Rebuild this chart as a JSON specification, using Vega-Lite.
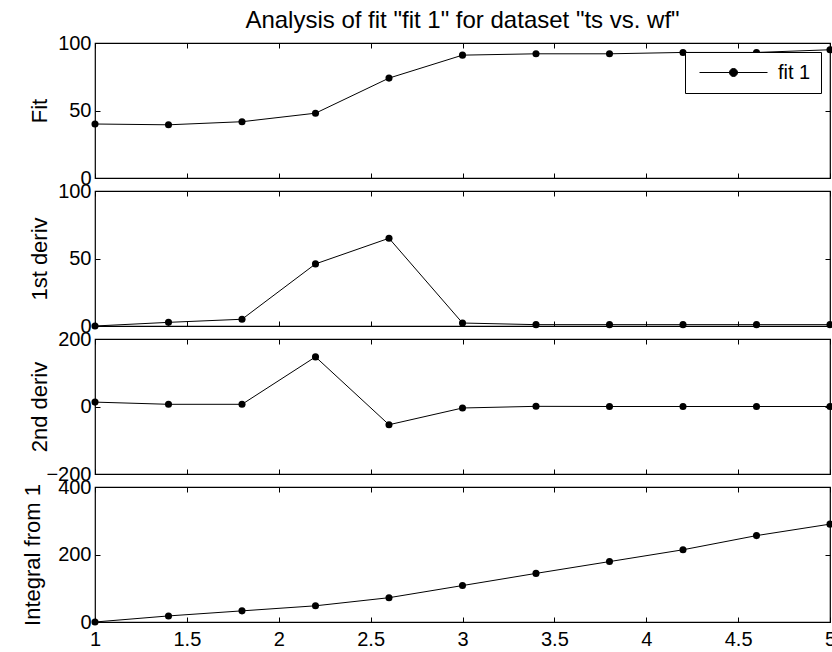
{
  "$schema": "https://vega.github.io/schema/vega-lite/v6.json",
  "padding": {"left": 20, "top": 8, "right": 0, "bottom": 0},
  "background": "white",
  "datasets": {
    "fit": [
      {"x": 1.0, "fit": 40, "d1": 0, "d2": 13, "integral": 0},
      {"x": 1.4, "fit": 39.4, "d1": 2.7, "d2": 6.5, "integral": 18},
      {"x": 1.8, "fit": 41.7, "d1": 5, "d2": 6.5, "integral": 33},
      {"x": 2.2, "fit": 48, "d1": 46, "d2": 147, "integral": 48},
      {"x": 2.6, "fit": 74, "d1": 65, "d2": -54, "integral": 72},
      {"x": 3.0, "fit": 91, "d1": 2.2, "d2": -4.4, "integral": 108},
      {"x": 3.4, "fit": 92, "d1": 1, "d2": 0.5, "integral": 144},
      {"x": 3.8, "fit": 92, "d1": 1, "d2": 0, "integral": 179},
      {"x": 4.2, "fit": 93, "d1": 1, "d2": 0, "integral": 214},
      {"x": 4.6, "fit": 93, "d1": 1, "d2": 0, "integral": 256},
      {"x": 5.0, "fit": 95, "d1": 1, "d2": 0, "integral": 290}
    ]
  },
  "spacing": 13,
  "bounds": "flush",
  "vconcat": [
    {
      "width": 735,
      "height": 135,
      "data": {"name": "fit"},
      "title": {"text": "Analysis of fit \"fit 1\" for dataset \"ts vs. wf\"", "frame": "group", "anchor": "middle", "baseline": "alphabetic", "offset": -19, "fontSize": 24, "fontWeight": "normal", "font": "Liberation Sans", "color": "black"},
      "layer": [
        {
          "mark": {"type": "line", "color": "black", "strokeWidth": 1},
          "encoding": {
            "x": {"field": "x", "type": "quantitative", "scale": {"domain": [1, 5], "nice": false, "zero": false}, "axis": {"orient": "bottom", "values": [1, 1.5, 2, 2.5, 3, 3.5, 4, 4.5, 5], "labels": false, "title": null}},
            "y": {"field": "fit", "type": "quantitative", "scale": {"domain": [0, 100], "nice": false}, "axis": {"orient": "left", "values": [0, 50, 100], "title": "Fit", "titleX": -56, "titleY": 67.5}}
          }
        },
        {
          "mark": {"type": "point", "filled": true, "size": 50, "opacity": 1},
          "encoding": {
            "x": {"field": "x", "type": "quantitative", "axis": {"orient": "top", "values": [1, 1.5, 2, 2.5, 3, 3.5, 4, 4.5, 5], "labels": false, "title": null}},
            "y": {"field": "fit", "type": "quantitative", "axis": {"orient": "right", "values": [0, 50, 100], "labels": false, "title": null}},
            "color": {"datum": "fit 1", "type": "nominal", "scale": {"range": ["black"]}, "legend": {"title": null, "orient": "top-right", "offset": 9, "symbolType": "M-0.6,0H6.2M3.2,0A0.4,0.4,0,1,1,2.4,0A0.4,0.4,0,1,1,3.2,0Z", "symbolSize": 400, "symbolStrokeWidth": 1, "symbolStrokeColor": "black", "symbolFillColor": "black", "symbolOpacity": 1, "labelFontSize": 20, "labelFont": "Liberation Sans", "labelColor": "black", "labelOffset": 62, "strokeColor": "black", "fillColor": "white", "padding": 10, "cornerRadius": 0}}
          }
        }
      ],
      "resolve": {"axis": {"x": "independent", "y": "independent"}}
    },
    {
      "width": 735,
      "height": 135,
      "data": {"name": "fit"},
      "layer": [
        {
          "mark": {"type": "line", "color": "black", "strokeWidth": 1},
          "encoding": {
            "x": {"field": "x", "type": "quantitative", "scale": {"domain": [1, 5], "nice": false, "zero": false}, "axis": {"orient": "bottom", "values": [1, 1.5, 2, 2.5, 3, 3.5, 4, 4.5, 5], "labels": false, "title": null}},
            "y": {"field": "d1", "type": "quantitative", "scale": {"domain": [0, 100], "nice": false}, "axis": {"orient": "left", "values": [0, 50, 100], "title": "1st deriv", "titleX": -56, "titleY": 67.5}}
          }
        },
        {
          "mark": {"type": "point", "filled": true, "size": 50, "opacity": 1, "color": "black"},
          "encoding": {
            "x": {"field": "x", "type": "quantitative", "axis": {"orient": "top", "values": [1, 1.5, 2, 2.5, 3, 3.5, 4, 4.5, 5], "labels": false, "title": null}},
            "y": {"field": "d1", "type": "quantitative", "axis": {"orient": "right", "values": [0, 50, 100], "labels": false, "title": null}}
          }
        }
      ],
      "resolve": {"axis": {"x": "independent", "y": "independent"}}
    },
    {
      "width": 735,
      "height": 135,
      "data": {"name": "fit"},
      "layer": [
        {
          "mark": {"type": "line", "color": "black", "strokeWidth": 1},
          "encoding": {
            "x": {"field": "x", "type": "quantitative", "scale": {"domain": [1, 5], "nice": false, "zero": false}, "axis": {"orient": "bottom", "values": [1, 1.5, 2, 2.5, 3, 3.5, 4, 4.5, 5], "labels": false, "title": null}},
            "y": {"field": "d2", "type": "quantitative", "scale": {"domain": [-200, 200], "nice": false}, "axis": {"orient": "left", "values": [-200, 0, 200], "title": "2nd deriv", "titleX": -56, "titleY": 67.5}}
          }
        },
        {
          "mark": {"type": "point", "filled": true, "size": 50, "opacity": 1, "color": "black"},
          "encoding": {
            "x": {"field": "x", "type": "quantitative", "axis": {"orient": "top", "values": [1, 1.5, 2, 2.5, 3, 3.5, 4, 4.5, 5], "labels": false, "title": null}},
            "y": {"field": "d2", "type": "quantitative", "axis": {"orient": "right", "values": [-200, 0, 200], "labels": false, "title": null}}
          }
        }
      ],
      "resolve": {"axis": {"x": "independent", "y": "independent"}}
    },
    {
      "width": 735,
      "height": 135,
      "data": {"name": "fit"},
      "layer": [
        {
          "mark": {"type": "line", "color": "black", "strokeWidth": 1},
          "encoding": {
            "x": {"field": "x", "type": "quantitative", "scale": {"domain": [1, 5], "nice": false, "zero": false}, "axis": {"orient": "bottom", "values": [1, 1.5, 2, 2.5, 3, 3.5, 4, 4.5, 5], "labels": true, "format": "~g", "labelFlush": false, "labelPadding": 12, "title": null}},
            "y": {"field": "integral", "type": "quantitative", "scale": {"domain": [0, 400], "nice": false}, "axis": {"orient": "left", "values": [0, 200, 400], "title": "Integral from 1", "titleX": -63, "titleY": 67.5}}
          }
        },
        {
          "mark": {"type": "point", "filled": true, "size": 50, "opacity": 1, "color": "black"},
          "encoding": {
            "x": {"field": "x", "type": "quantitative", "axis": {"orient": "top", "values": [1, 1.5, 2, 2.5, 3, 3.5, 4, 4.5, 5], "labels": false, "title": null}},
            "y": {"field": "integral", "type": "quantitative", "axis": {"orient": "right", "values": [0, 200, 400], "labels": false, "title": null}}
          }
        }
      ],
      "resolve": {"axis": {"x": "independent", "y": "independent"}}
    }
  ],
  "config": {
    "font": "Liberation Sans",
    "view": {"stroke": "black", "strokeWidth": 1.2},
    "axis": {
      "domain": false,
      "grid": false,
      "ticks": true,
      "tickSize": -5,
      "tickColor": "black",
      "tickWidth": 1,
      "labelColor": "black",
      "labelFont": "Liberation Sans",
      "labelFontSize": 20,
      "labelPadding": 9,
      "labelFlush": false,
      "labelOverlap": false,
      "labelBound": false,
      "titleColor": "black",
      "titleFont": "Liberation Sans",
      "titleFontSize": 22,
      "titleFontWeight": "normal",
      "titleBaseline": "middle",
      "titleAlign": "center",
      "titleAngle": 270
    }
  }
}
